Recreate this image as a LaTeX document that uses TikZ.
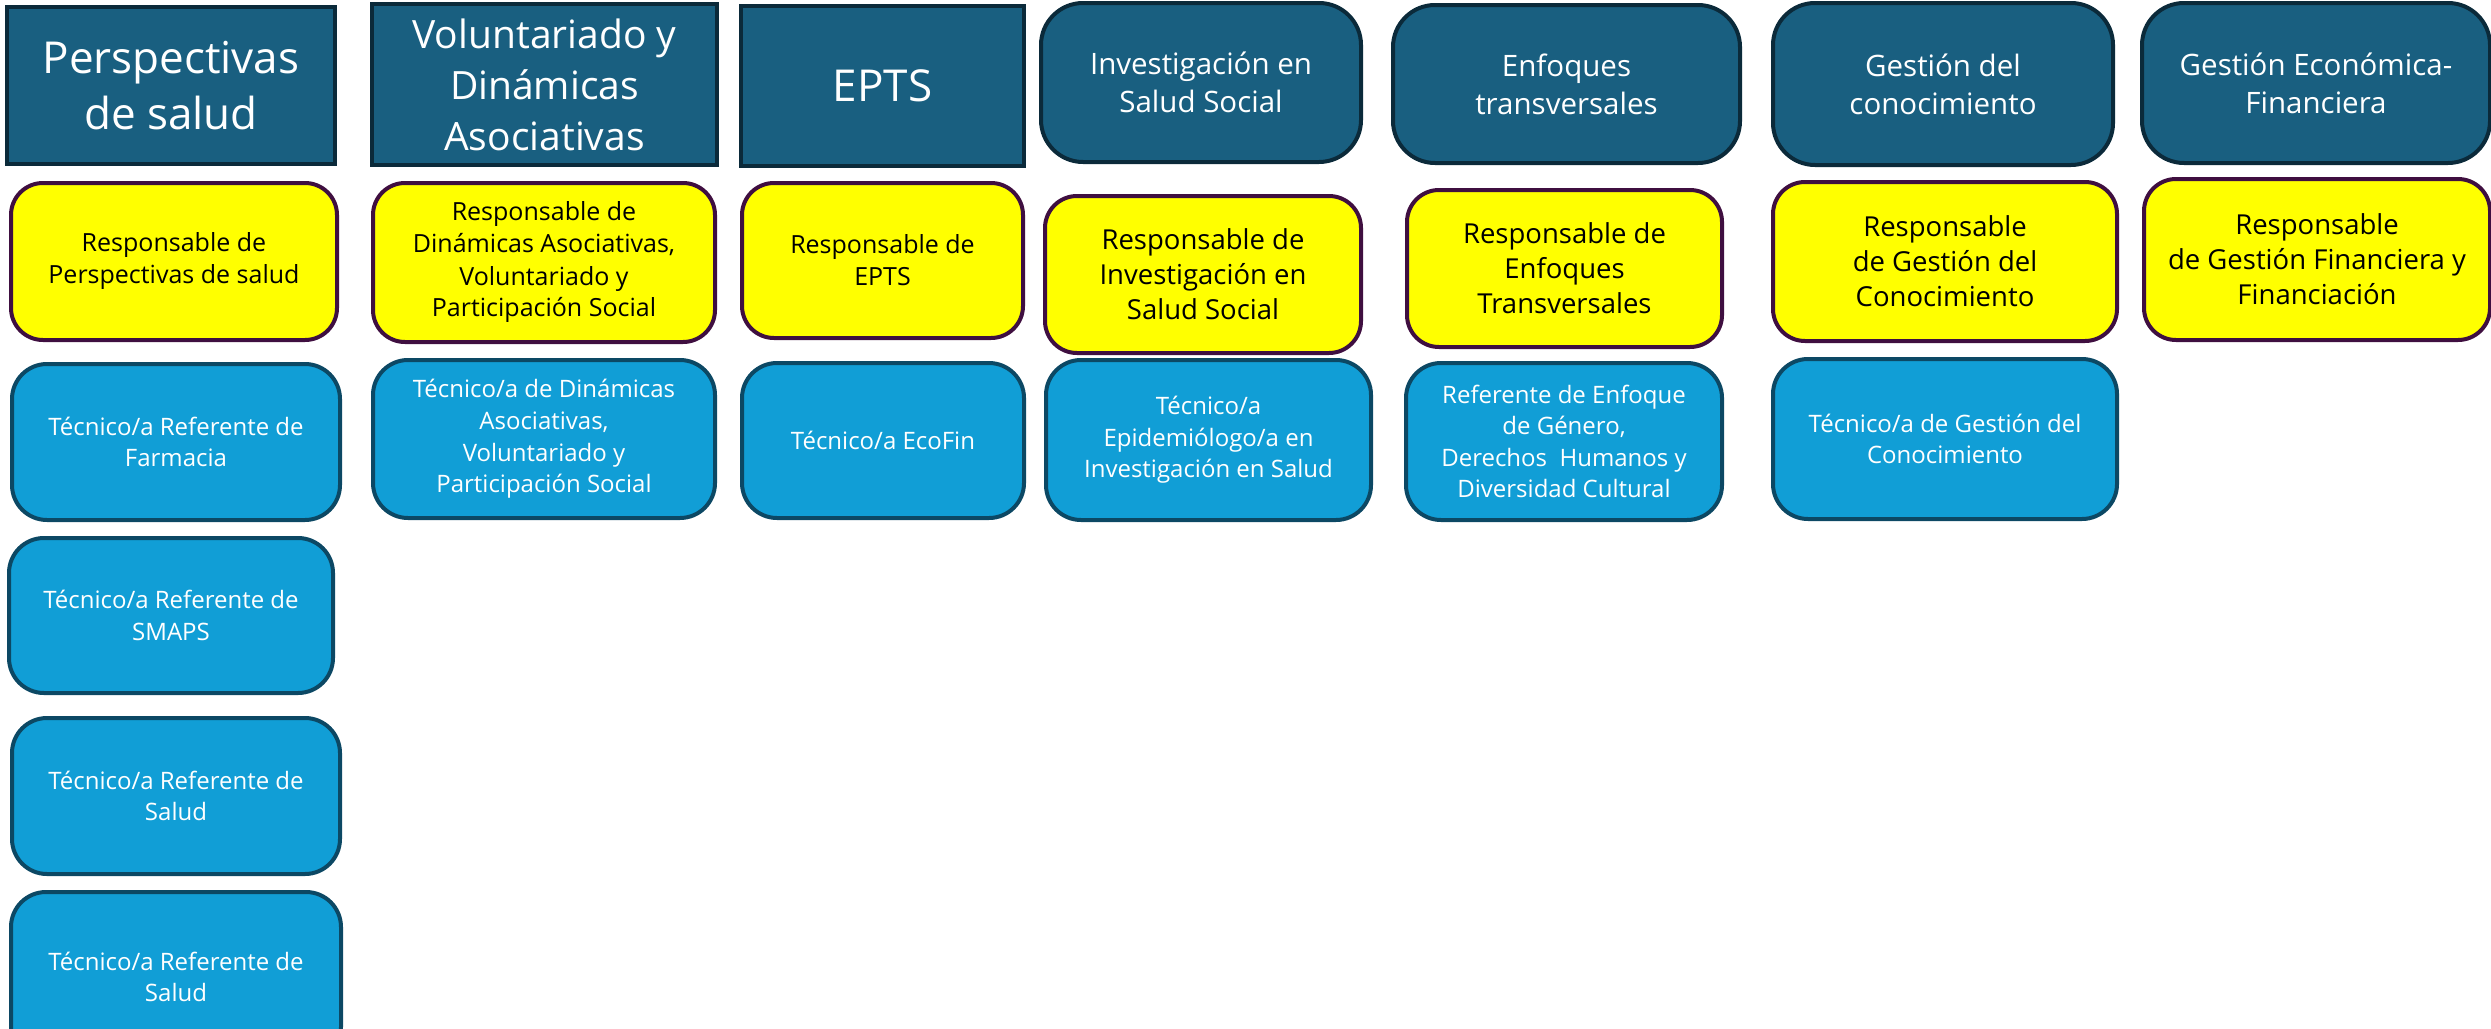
\documentclass[tikz,border=0pt]{standalone}
\usepackage{fontspec}
\setmainfont{Open Sans}
\definecolor{hdrfill}{RGB}{25,95,128}
\definecolor{hdrline}{RGB}{11,42,58}
\definecolor{yelfill}{RGB}{255,255,0}
\definecolor{yelline}{RGB}{63,15,64}
\definecolor{bluefill}{RGB}{17,158,214}
\definecolor{blueline}{RGB}{12,72,100}
\tikzset{
  box/.style={draw, line width=4pt, align=center, inner sep=0pt, outer sep=0pt},
  hdr/.style={box, fill=hdrfill, draw=hdrline, text=white},
  hdrround/.style={hdr, rounded corners=42pt},
  yel/.style={box, fill=yelfill, draw=yelline, text=black, rounded corners=32pt},
  blu/.style={box, fill=bluefill, draw=blueline, text=white, rounded corners=35pt},
  fbig/.style={font=\fontsize{44}{56}\selectfont},
  fvol/.style={font=\fontsize{39}{51}\selectfont},
  fhdr/.style={font=\fontsize{29.5}{38}\selectfont},
  fysmall/.style={font=\fontsize{25}{32}\selectfont},
  fylarge/.style={font=\fontsize{27.5}{35}\selectfont},
  fblue/.style={font=\fontsize{24}{31.6}\selectfont},
  sz/.style 2 args={minimum width=#1pt, minimum height=#2pt},
}
\begin{document}
\begin{tikzpicture}[x=1pt,y=-1pt]
\useasboundingbox (0,0) rectangle (2491,1028);
\clip (0,0) rectangle (2491,1028);
% headers
\node[hdr, fbig, sz={328}{157}] (h1) at (171,85.5) {Perspectivas\\de salud};
\node[hdr, fvol, sz={345}{161}] (h2) at (544.5,84.5) {Voluntariado y\\Dinámicas\\Asociativas};
\node[hdr, fbig, sz={283}{160}] (h3) at (882.5,86) {EPTS};
\node[hdrround, fhdr, sz={320}{159}] (h4) at (1201,82.5) {Investigación en\\Salud Social};
\node[hdrround, fhdr, sz={347}{158}] (h5) at (1566.5,84) {Enfoques\\transversales};
\node[hdrround, fhdr, sz={340}{162}] (h6) at (1943,84) {Gestión del\\conocimiento};
\node[hdrround, fhdr, sz={348}{160}] (h7) at (2316,83) {Gestión Económica-\\Financiera};
% responsables
\node[yel, fysmall, sz={326}{157}] (y1) at (174,261.5) {Responsable de\\Perspectivas de salud};
\node[yel, fysmall, sz={342}{159}] (y2) at (544,262.5) {Responsable de\\Dinámicas Asociativas,\\Voluntariado y\\Participación Social};
\node[yel, fysmall, sz={281}{155}] (y3) at (882.5,260.5) {Responsable de\\EPTS};
\node[yel, fylarge, sz={316}{157}] (y4) at (1203,274.5) {Responsable de\\Investigación en\\Salud Social};
\node[yel, fylarge, sz={315}{157}] (y5) at (1564.5,268.5) {Responsable de\\Enfoques\\Transversales};
\node[yel, fylarge, sz={344}{159}] (y6) at (1945,261.5) {Responsable\\de Gestión del\\Conocimiento};
\node[yel, fylarge, sz={346}{161}] (y7) at (2317,259.5) {Responsable\\de Gestión Financiera y\\Financiación};
% tecnicos
\node[blu, fblue, sz={328}{156}] (b1) at (176,442) {Técnico/a Referente de\\Farmacia};
\node[blu, fblue, sz={324}{155}] (b2) at (171,615.5) {Técnico/a Referente de\\SMAPS};
\node[blu, fblue, sz={328}{156}] (b3) at (176,796) {Técnico/a Referente de\\Salud};
\node[blu, fblue, sz={330}{170}] (b4) at (176,977) {Técnico/a Referente de\\Salud};
\node[blu, fblue, sz={342}{158}] (b5) at (544,439) {Técnico/a de Dinámicas\\Asociativas,\\Voluntariado y\\Participación Social};
\node[blu, fblue, sz={282}{155}] (b6) at (883,440.5) {Técnico/a EcoFin};
\node[blu, fblue, sz={325}{160}] (b7) at (1208.5,440) {Técnico/a\\Epidemiólogo/a en\\Investigación en Salud};
\node[blu, fblue, sz={316}{157}] (b8) at (1564,441.5) {Referente de Enfoque\\de Género,\\Derechos\ \ Humanos y\\Diversidad Cultural};
\node[blu, fblue, sz={344}{160}] (b9) at (1945,439) {Técnico/a de Gestión del\\Conocimiento};
\end{tikzpicture}
\end{document}
